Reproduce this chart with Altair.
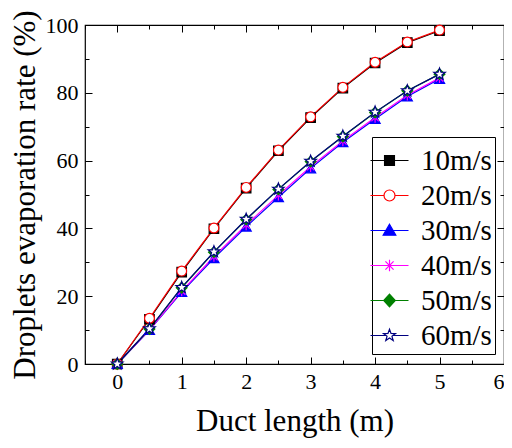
import math
import altair as alt
import pandas as pd

# ---------------- data ----------------
x_vals = [0, 0.5, 1, 1.5, 2, 2.5, 3, 3.5, 4, 4.5, 5]
series_names = ["10m/s", "20m/s", "30m/s", "40m/s", "50m/s", "60m/s"]
rate_10 = [0, 13.2, 27.1, 39.9, 51.9, 62.9, 72.7, 81.4, 88.8, 94.8, 98.3]
rate_20 = [0, 13.5, 27.4, 40.1, 52.1, 63.1, 72.9, 81.6, 89.0, 95.0, 98.5]
rate_30 = [0, 10.0, 21.2, 31.2, 40.5, 49.2, 57.7, 65.4, 72.3, 78.9, 84.1]
rate_40 = [0, 10.1, 21.5, 31.7, 41.0, 49.8, 58.2, 65.8, 72.7, 79.3, 84.4]
rate_50 = [0, 10.3, 22.5, 33.0, 42.6, 51.5, 59.7, 67.1, 74.2, 80.6, 85.5]
rate_60 = [0, 10.4, 22.6, 33.1, 42.7, 51.6, 59.8, 67.2, 74.3, 80.6, 85.5]
all_rates = [rate_10, rate_20, rate_30, rate_40, rate_50, rate_60]

x_major = [0, 1, 2, 3, 4, 5, 6]
x_minor = [-0.5, 0.5, 1.5, 2.5, 3.5, 4.5, 5.5]
y_major = [0, 20, 40, 60, 80, 100]
y_minor = [10, 30, 50, 70, 90]

stroke_colors = ["#000000", "#ff0000", "#0000ff", "#ff00ff", "#008000", "#000080"]
fill_colors = ["#000000", "#ffffff", "#0000ff", "#ff00ff", "#008000", "#ffffff"]
marker_sizes = [90, 121, 115, 121, 190, 150]

rows = []
for name, vals in zip(series_names, all_rates):
    for xv, yv in zip(x_vals, vals):
        rows.append({"x": xv, "rate": yv, "series": name})
df = pd.DataFrame(rows)

# ---------------- marker shapes ----------------
def star_path(r_out, r_in):
    pts = []
    for i in range(10):
        r = r_out if i % 2 == 0 else r_in
        a = -math.pi / 2 + i * math.pi / 5
        pts.append((r * math.cos(a), r * math.sin(a)))
    return "M" + "L".join(f"{px:.3f},{py:.3f}" for px, py in pts) + "Z"

def asterisk_path(r):
    d = r * 0.7071
    return (f"M0,{-r}L0,{r}M{-d:.3f},{-d:.3f}L{d:.3f},{d:.3f}"
            f"M{-d:.3f},{d:.3f}L{d:.3f},{-d:.3f}")

point_shapes = ["square", "circle", "triangle-up", asterisk_path(1),
                "diamond", star_path(1.1, 0.45)]

m = 0.55  # legend marker half-size in unit space
L = 1.9   # legend line half-length in unit space
full_line = f"M-{L},0H{L}"
cut_line = f"M-{L},0H{-m}M{m},0H{L}"
legend_shapes = [
    full_line + f"M{-m*0.9},{-m*0.9}H{m*0.9}V{m*0.9}H{-m*0.9}Z",
    cut_line + f"M{-m},0A{m},{m} 0 1,0 {m},0A{m},{m} 0 1,0 {-m},0Z",
    full_line + f"M0,{-m*1.15}L{m*1.15},{m*0.85}L{-m*1.15},{m*0.85}Z",
    full_line + asterisk_path(m * 1.05),
    full_line + f"M0,{-m*1.15}L{m*1.05},0L0,{m*1.15}L{-m*1.05},0Z",
    f"M-{L},0H{-m*0.75}M{m*0.75},0H{L}" + star_path(m * 1.15, m * 0.47),
]

FONT = "Liberation Serif, Times New Roman, Times, serif"
x_scale = alt.Scale(domain=[-0.5, 6], nice=False, zero=False)
y_scale = alt.Scale(domain=[0, 100], nice=False)

def ax(orient, values, size, labels, title=None, **kw):
    return alt.Axis(orient=orient, values=values, tickSize=size, offset=-size,
                    domain=False, grid=False, labels=labels, title=title,
                    tickColor="black", tickWidth=1, **kw)

lab_kw = dict(labelFont=FONT, labelFontSize=22, labelColor="black",
              titleFont=FONT, titleFontSize=31, titleColor="black",
              titleFontWeight="normal", format="d")

base = alt.Chart(df)

lines = base.mark_line(strokeWidth=1.2).encode(
    x=alt.X("x:Q", scale=x_scale,
            axis=ax("bottom", x_major, 7, True, "Duct length (m)",
                    labelPadding=7, titlePadding=14, **lab_kw)),
    y=alt.Y("rate:Q", scale=y_scale,
            axis=ax("left", y_major, 7, True, "Droplets evaporation rate (%)",
                    labelPadding=7, titlePadding=4, **lab_kw)),
    color=alt.Color("series:N", scale=alt.Scale(domain=series_names, range=stroke_colors),
                    legend=None),
    detail="series:N",
)

points = base.mark_point(filled=True, strokeWidth=1.2, opacity=1).encode(
    x=alt.X("x:Q", scale=x_scale, axis=ax("bottom", x_minor, 4, False)),
    y=alt.Y("rate:Q", scale=y_scale, axis=ax("left", y_minor, 4, False)),
    shape=alt.Shape("series:N", scale=alt.Scale(domain=series_names, range=point_shapes),
                    legend=None),
    fill=alt.Fill("series:N", scale=alt.Scale(domain=series_names, range=fill_colors),
                  legend=None),
    stroke=alt.Stroke("series:N", scale=alt.Scale(domain=series_names, range=stroke_colors),
                      legend=None),
    size=alt.Size("series:N", scale=alt.Scale(domain=series_names, range=marker_sizes),
                  legend=None),
)

leg = alt.Legend(title="\u00a0", titleFontSize=5, titlePadding=1,
                 orient="none", legendX=287, legendY=112,
                 symbolSize=400, symbolStrokeWidth=1.2, symbolOpacity=1,
                 labelFont=FONT, labelFontSize=29, labelColor="black", labelLimit=300,
                 strokeColor="black", fillColor="white", padding=3, rowPadding=5,
                 labelOffset=17, cornerRadius=0)

legend_layer = base.mark_point(filled=True, opacity=0).encode(
    x=alt.X("x:Q", scale=x_scale, axis=ax("top", x_major, 7, False)),
    y=alt.Y("rate:Q", scale=y_scale, axis=ax("right", y_major, 7, False)),
    shape=alt.Shape("series:N", scale=alt.Scale(domain=series_names, range=legend_shapes),
                    legend=leg),
    fill=alt.Fill("series:N", scale=alt.Scale(domain=series_names, range=fill_colors),
                  legend=leg),
    stroke=alt.Stroke("series:N", scale=alt.Scale(domain=series_names, range=stroke_colors),
                      legend=leg),
)

minor_tr = base.mark_point(opacity=0).encode(
    x=alt.X("x:Q", scale=x_scale, axis=ax("top", x_minor, 4, False)),
    y=alt.Y("rate:Q", scale=y_scale, axis=ax("right", y_minor, 4, False)),
)

chart = alt.layer(lines, points, legend_layer, minor_tr).resolve_axis(
    x="independent", y="independent"
).resolve_scale(
    shape="independent", fill="independent", stroke="independent",
    color="independent", size="independent"
).properties(
    width=419, height=339,
    autosize=alt.AutoSizeParams(type="none"),
    padding={"left": 77, "top": 17, "right": 0, "bottom": 76},
).configure_view(stroke="black", strokeWidth=1.2)

chart.save("out.html", embed_options={"renderer": "svg", "actions": False})
